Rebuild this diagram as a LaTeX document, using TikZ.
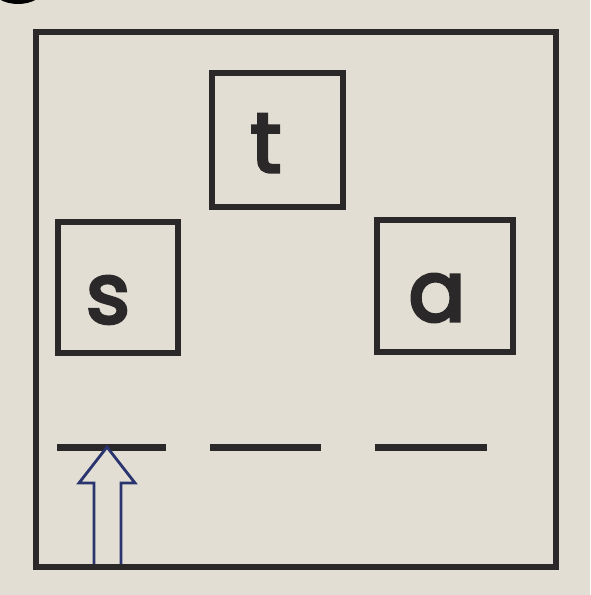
\documentclass[tikz,border=0pt]{standalone}
\usepackage{fontspec}
\setmainfont{Poppins}
\newfontfamily\lettfont{Poppins}[FakeBold=4]
\definecolor{paper}{RGB}{226,222,212}
\definecolor{ink}{RGB}{42,40,40}
\definecolor{navy}{RGB}{42,52,110}
\begin{document}
\begin{tikzpicture}[x=1pt,y=-1pt,
  frame/.style={draw=ink,line width=6.5pt},
  tile/.style={draw=ink,line width=6.5pt,rectangle,inner sep=0pt},
  letter/.style={text=ink,font=\lettfont\fontsize{84}{84}\selectfont,inner sep=0pt,anchor=base},
  blank/.style={draw=ink,line width=7pt},
  hollowarrow/.style={draw=navy,line width=2.8pt,fill=paper,line join=miter}]
\fill[paper] (0,0) rectangle (590,595);
\useasboundingbox (0,0) rectangle (590,595);
\begin{scope}
\clip (0,0) rectangle (590,595);
\fill[black] (18,-12) ellipse [x radius=26pt,y radius=16pt];
\end{scope}
\draw[frame] (36,32) rectangle (556,567);
\node[tile,minimum width=131pt,minimum height=134pt] (tbox) at (277.5,140) {};
\node[tile,minimum width=120pt,minimum height=131pt] (sbox) at (118,287.5) {};
\node[tile,minimum width=136pt,minimum height=132pt] (abox) at (445,286) {};
\node[letter] (tl) at (266,172) {t};
\node[letter] (sl) at (108,323) {s};
\node[letter] (al) at (437,321) {a};
\draw[blank] (57,447) -- (166,447);
\draw[blank] (210,447) -- (321,447);
\draw[blank] (375,447) -- (487,447);
\draw[hollowarrow] (107,447) -- (135,483) -- (121,483) -- (121,567) -- (94,567) -- (94,483) -- (79,483) -- cycle;
\draw[ink,line width=6.5pt] (36,567) -- (556,567);
\end{tikzpicture}
\end{document}
